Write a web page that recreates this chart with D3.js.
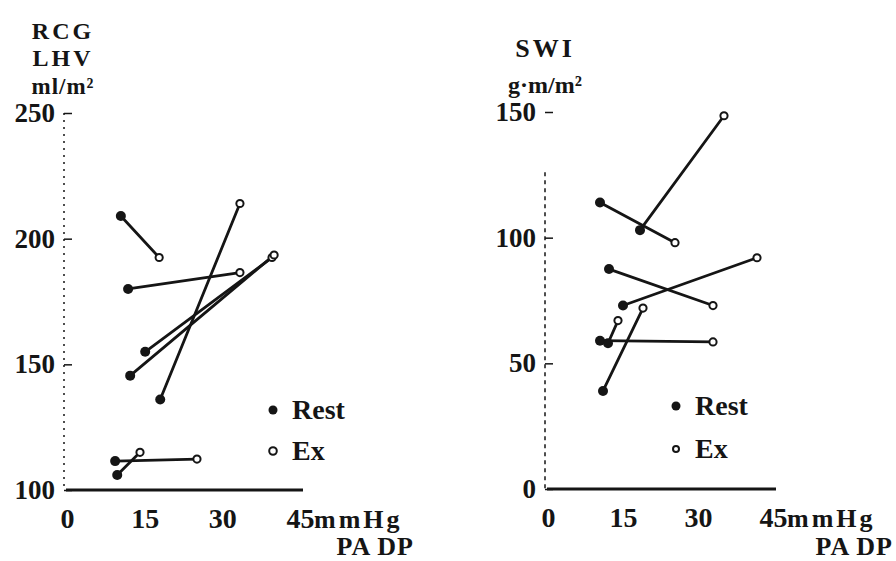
<!DOCTYPE html>
<html><head><meta charset="utf-8">
<script src="https://cdn.jsdelivr.net/npm/d3@7"></script>
<style>
body{margin:0;background:#fff}
svg{display:block}
text{font-family:"Liberation Serif","DejaVu Serif",serif;font-weight:bold;fill:#151515}
</style></head><body>
<svg id="c" width="896" height="561"></svg>
<script>
// ---- data ----
const padpTicks = [0, 15, 30, 45];
const lhvTicks = [100, 150, 200, 250];
const swiTicks = [0, 50, 100, 150];
const lhvTitle = ["RCG", "LHV", "ml/m²"];
const swiTitle = ["SWI", "g·m/m²"];
const xUnit = "mmHg";
const xName = "PA DP";
const legendLabels = ["Rest", "Ex"];

// RCG LHV (ml/m²) vs PADP (mmHg)
const lhvRestPADP = [10.4, 11.8, 15.1, 12.2, 18.0, 9.3, 9.7];
const lhvRest     = [209, 180, 155, 145.5, 136, 111.5, 106];
const lhvExPADP   = [17.8, 33.4, 39.6, 40.0, 33.4, 25.1, 14.1];
const lhvEx       = [192.5, 186.5, 192.5, 193.5, 214, 112.3, 115];

// SWI (g·m/m²) vs PADP (mmHg)
const swiRestPADP = [10.4, 18.4, 12.2, 15.0, 10.4, 12.0, 11.0];
const swiRest     = [114, 103, 87.5, 73, 59, 58, 39];
const swiExPADP   = [25.4, 35.2, 33.0, 41.8, 33.0, 14.0, 19.0];
const swiEx       = [98, 148.5, 73, 92, 58.5, 67, 72];

// ---- drawing ----
const svg = d3.select("#c");
const ink = "#151515";

function panel(o) {
  const x = d3.scaleLinear().domain([0, 45]).range(o.xr);
  const y = d3.scaleLinear().domain(o.yd).range(o.yr);

  // y axis (dotted line, inner ticks)
  const gy = svg.append("g")
    .attr("transform", `translate(${x(0) - 3},0)`)
    .call(d3.axisLeft(y).tickValues(o.yt).tickSizeInner(-8).tickSizeOuter(0).tickPadding(9));
  gy.select(".domain").attr("stroke", ink).attr("stroke-width", 1.5)
    .attr("stroke-dasharray", o.dash)
    .attr("d", `M0,${y(o.axisTop)}V${y(o.yd[0])}`);
  gy.selectAll(".tick line").attr("stroke", ink).attr("stroke-width", 1.5);
  gy.selectAll(".tick text").attr("font-size", 27).attr("fill", ink)
    .style("font-family", '"Liberation Serif",serif').style("font-weight", "bold");

  // x axis (thick baseline)
  const gx = svg.append("g")
    .attr("transform", `translate(0,${y(o.yd[0])})`)
    .call(d3.axisBottom(x).tickValues(padpTicks).tickSize(0).tickPadding(18));
  gx.select(".domain").attr("stroke", ink).attr("stroke-width", 3)
    .attr("d", `M${x(0) - 1},0H${x(45) + 3}`);
  gx.selectAll(".tick text").attr("font-size", 28).attr("fill", ink)
    .style("font-family", '"Liberation Serif",serif').style("font-weight", "bold");

  // unit + name
  svg.append("text").attr("x", x(45) + 14).attr("y", y(o.yd[0]) + 38)
    .attr("font-size", 26).attr("letter-spacing", 3).text(xUnit);
  svg.append("text").attr("x", o.nameRight).attr("y", o.nameY)
    .attr("text-anchor", "end").attr("font-size", 26).attr("letter-spacing", 1).text(xName);

  // title
  svg.append("g").selectAll("text").data(o.title).join("text")
    .attr("x", o.titleX).attr("y", (d, i) => o.titleY[i])
    .attr("text-anchor", "middle").attr("font-size", (d, i) => o.titleSize[i])
    .attr("letter-spacing", (d, i) => o.titleLs[i])
    .text(d => d);

  // pairs
  const pairs = o.rx.map((d, i) => ({ rx: d, ry: o.ry[i], ex: o.ex[i], ey: o.ey[i] }));
  svg.append("g").selectAll("line").data(pairs).join("line")
    .attr("x1", d => x(d.rx)).attr("y1", d => y(d.ry))
    .attr("x2", d => x(d.ex)).attr("y2", d => y(d.ey))
    .attr("stroke", ink).attr("stroke-width", 2.8).attr("stroke-linecap", "round");
  svg.append("g").selectAll("circle").data(pairs).join("circle")
    .attr("cx", d => x(d.rx)).attr("cy", d => y(d.ry)).attr("r", 5).attr("fill", ink);
  svg.append("g").selectAll("circle").data(pairs).join("circle")
    .attr("cx", d => x(d.ex)).attr("cy", d => y(d.ey)).attr("r", 3.6)
    .attr("fill", "#fff").attr("stroke", ink).attr("stroke-width", 2);

  // legend
  const lg = svg.append("g").attr("transform", `translate(${o.legX},${o.legY})`);
  lg.append("circle").attr("cx", 0).attr("cy", 0).attr("r", 4.5).attr("fill", ink);
  lg.append("circle").attr("cx", 0).attr("cy", o.legGap).attr("r", o.exR)
    .attr("fill", "#fff").attr("stroke", ink).attr("stroke-width", 2);
  lg.selectAll("text").data(legendLabels).join("text")
    .attr("x", 19).attr("y", (d, i) => i * o.legGap + 9)
    .attr("font-size", 28).text(d => d);
}

panel({
  xr: [67, 300], yd: [100, 250], yr: [490, 113], yt: lhvTicks, axisTop: 250, dash: "2,5",
  rx: lhvRestPADP, ry: lhvRest, ex: lhvExPADP, ey: lhvEx,
  title: lhvTitle, titleX: 63, titleY: [39, 66, 94], titleSize: [24, 24, 23], titleLs: [3, 3, 1],
  nameRight: 414, nameY: 555,
  legX: 273, legY: 410, legGap: 41, exR: 3.8
});
panel({
  xr: [548, 773], yd: [0, 150], yr: [489, 112], yt: swiTicks, axisTop: 126, dash: "4,4",
  rx: swiRestPADP, ry: swiRest, ex: swiExPADP, ey: swiEx,
  title: swiTitle, titleX: 545, titleY: [57, 93], titleSize: [26, 24], titleLs: [3, 0],
  nameRight: 893, nameY: 555,
  legX: 676, legY: 406, legGap: 43, exR: 3
});
</script>
</body></html>
